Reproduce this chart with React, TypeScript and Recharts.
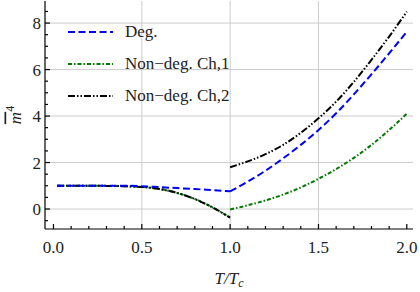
import React from "react";
import { LineChart, Line, XAxis, YAxis, CartesianGrid, Legend } from "recharts";

// temperature grids (T / Tc)
const tBelow = [0.02, 0.1, 0.2, 0.3, 0.4, 0.5, 0.6, 0.7, 0.8, 0.9, 1.0];
const tAbove = [1.0, 1.1, 1.2, 1.3, 1.4, 1.5, 1.6, 1.7, 1.8, 1.9, 2.0];

// m^4 values
const degBelow = [1.0, 1.0, 1.0, 1.0, 1.0, 0.98, 0.94, 0.9, 0.86, 0.81, 0.76];
const degAbove = [0.76, 1.18, 1.65, 2.18, 2.76, 3.4, 4.12, 4.93, 5.8, 6.7, 7.63];
const nonDegBelow = [1.0, 1.0, 1.0, 0.995, 0.98, 0.95, 0.86, 0.69, 0.43, 0.07, -0.37];
const ch1Above = [-0.02, 0.16, 0.37, 0.62, 0.93, 1.3, 1.72, 2.2, 2.76, 3.4, 4.1];
const ch2Above = [1.8, 2.05, 2.36, 2.76, 3.28, 3.9, 4.62, 5.47, 6.42, 7.42, 8.49];

const legendNames = ["Deg.", "Non\u2212deg. Ch,1", "Non\u2212deg. Ch,2"];

const xTicks = [0, 0.1, 0.2, 0.3, 0.4, 0.5, 0.6, 0.7, 0.8, 0.9, 1.0, 1.1, 1.2, 1.3, 1.4, 1.5, 1.6, 1.7, 1.8, 1.9, 2.0];
const yTicks = [-0.5, 0, 0.5, 1, 1.5, 2, 2.5, 3, 3.5, 4, 4.5, 5, 5.5, 6, 6.5, 7, 7.5, 8, 8.5];
const xGrid = [0.5, 1.0, 1.5];
const yGrid = [0, 2, 4, 6, 8];

const X_DOMAIN: [number, number] = [-0.048, 2.035];
const Y_DOMAIN: [number, number] = [-0.86, 8.95];

const FONT = "Liberation Serif, serif";
const BLUE = "#0000ff";
const GREEN = "#007a00";
const BLACK = "#000000";
const styles = [
  { color: BLUE, dash: "7 3.5" },
  { color: GREEN, dash: "4 2 1.5 2" },
  { color: BLACK, dash: "7 2 1.5 2 1.5 2" },
];

const toRows = (ts: number[], ys: number[]) => ts.map((t, i) => ({ t, y: ys[i] }));

const degLow = toRows(tBelow, degBelow);
const degHigh = toRows(tAbove, degAbove);
const ndLow = toRows(tBelow, nonDegBelow);
const ch1High = toRows(tAbove, ch1Above);
const ch2High = toRows(tAbove, ch2Above);

const isMajorX = (v: number) => Math.abs(v * 2 - Math.round(v * 2)) < 1e-6;
const isMajorY = (v: number) => Math.abs(v / 2 - Math.round(v / 2)) < 1e-6;

const BottomTick = (props: any) => {
  const { x, y, payload } = props;
  const major = isMajorX(payload.value);
  return (
    <g>
      <line x1={x} x2={x} y1={y} y2={y - (major ? 5 : 3)} stroke="#000" strokeWidth={1.2} />
      {major && (
        <text x={x} y={y + 24} textAnchor="middle" style={{ fontFamily: FONT }} fontSize={17} fill="#222">
          {payload.value.toFixed(1)}
        </text>
      )}
    </g>
  );
};

const TopTick = (props: any) => {
  const { x, y, payload } = props;
  const major = isMajorX(payload.value);
  return <line x1={x} x2={x} y1={y} y2={y + (major ? 5 : 3)} stroke="#000" strokeWidth={1.2} />;
};

const LeftTick = (props: any) => {
  const { x, y, payload } = props;
  const major = isMajorY(payload.value);
  return (
    <g>
      <line x1={x} x2={x + (major ? 5 : 3)} y1={y} y2={y} stroke="#000" strokeWidth={1.2} />
      {major && (
        <text x={x - 4} y={y + 6} textAnchor="end" style={{ fontFamily: FONT }} fontSize={17} fill="#222">
          {payload.value}
        </text>
      )}
    </g>
  );
};

const RightTick = (props: any) => {
  const { x, y, payload } = props;
  const major = isMajorY(payload.value);
  return <line x1={x} x2={x - (major ? 5 : 3)} y1={y} y2={y} stroke="#000" strokeWidth={1.2} />;
};

const xLabel = (props: any) => {
  const vb = props.viewBox;
  return (
    <text x={vb.x + vb.width / 2} y={284} textAnchor="middle" style={{ fontFamily: FONT }} fontSize={17} fontStyle="italic" fill="#222">
      T/T<tspan fontSize={12} dy={3}>c</tspan>
    </text>
  );
};

const yLabel = (props: any) => {
  const vb = props.viewBox;
  const cx = 20.5;
  const cy = vb.y + vb.height / 2;
  return (
    <text x={cx} y={cy} transform={`rotate(-90, ${cx}, ${cy})`} textAnchor="middle" style={{ fontFamily: FONT }} fontSize={17} fill="#222">
      <tspan fontStyle="italic" textDecoration="overline">m</tspan>
      <tspan fontSize={12} dy={-7}>4</tspan>
    </text>
  );
};

const renderLegend = () => (
  <div style={{ fontFamily: FONT, fontSize: 17, color: "#222" }}>
    {legendNames.map((name, i) => (
      <div key={name} style={{ display: "flex", alignItems: "center", height: 32 }}>
        <svg width={45} height={6} style={{ display: "block" }}>
          <line x1={0} x2={45} y1={3} y2={3} stroke={styles[i].color} strokeWidth={2} strokeDasharray={styles[i].dash} />
        </svg>
        <span style={{ marginLeft: 12, lineHeight: "20px", whiteSpace: "nowrap" }}>{name}</span>
      </div>
    ))}
  </div>
);

export default function App() {
  return (
    <div style={{ position: "absolute", left: 0, top: 0, width: 420, height: 292, background: "#fff", fontFamily: FONT }}>
      <LineChart width={420} height={292} margin={{ top: 1, right: 7, bottom: 23, left: 0 }}>
        <CartesianGrid verticalValues={xGrid} horizontalValues={yGrid} stroke="#cccccc" strokeWidth={1} />
        <XAxis
          type="number"
          dataKey="t"
          domain={X_DOMAIN}
          allowDataOverflow
          ticks={xTicks}
          interval={0}
          height={40}
          tickSize={0}
          tickMargin={0}
          tickLine={false}
          tick={<BottomTick />}
          axisLine={{ stroke: "#000", strokeWidth: 1.2 }}
          label={xLabel}
        />
        <XAxis
          xAxisId="top"
          orientation="top"
          type="number"
          dataKey="t"
          domain={X_DOMAIN}
          allowDataOverflow
          ticks={xTicks}
          interval={0}
          height={0}
          tickSize={0}
          tickMargin={0}
          tickLine={false}
          tick={<TopTick />}
          axisLine={{ stroke: "#000", strokeWidth: 1.2 }}
        />
        <YAxis
          type="number"
          domain={Y_DOMAIN}
          allowDataOverflow
          ticks={yTicks}
          interval={0}
          width={45}
          tickSize={0}
          tickMargin={0}
          tickLine={false}
          tick={<LeftTick />}
          axisLine={{ stroke: "#000", strokeWidth: 1.2 }}
          label={yLabel}
        />
        <YAxis
          yAxisId="right"
          orientation="right"
          type="number"
          domain={Y_DOMAIN}
          allowDataOverflow
          ticks={yTicks}
          interval={0}
          width={0}
          tickSize={0}
          tickMargin={0}
          tickLine={false}
          tick={<RightTick />}
          axisLine={{ stroke: "#000", strokeWidth: 1.2 }}
        />
        <Legend
          layout="vertical"
          verticalAlign="middle"
          align="center"
          content={renderLegend}
          wrapperStyle={{ position: "absolute", left: 68, top: 16, width: "auto", height: "auto" }}
        />
        <Line data={ndLow} dataKey="y" type="monotone" stroke={GREEN} strokeWidth={2} strokeDasharray={styles[1].dash} dot={false} isAnimationActive={false} />
        <Line data={ndLow} dataKey="y" type="monotone" stroke={BLACK} strokeWidth={2} strokeDasharray={styles[2].dash} dot={false} isAnimationActive={false} />
        <Line data={degLow} dataKey="y" type="monotone" stroke={BLUE} strokeWidth={2} strokeDasharray={styles[0].dash} dot={false} isAnimationActive={false} />
        <Line data={degHigh} dataKey="y" type="monotone" stroke={BLUE} strokeWidth={2} strokeDasharray={styles[0].dash} dot={false} isAnimationActive={false} />
        <Line data={ch1High} dataKey="y" type="monotone" stroke={GREEN} strokeWidth={2} strokeDasharray={styles[1].dash} dot={false} isAnimationActive={false} />
        <Line data={ch2High} dataKey="y" type="monotone" stroke={BLACK} strokeWidth={2} strokeDasharray={styles[2].dash} dot={false} isAnimationActive={false} />
      </LineChart>
    </div>
  );
}
